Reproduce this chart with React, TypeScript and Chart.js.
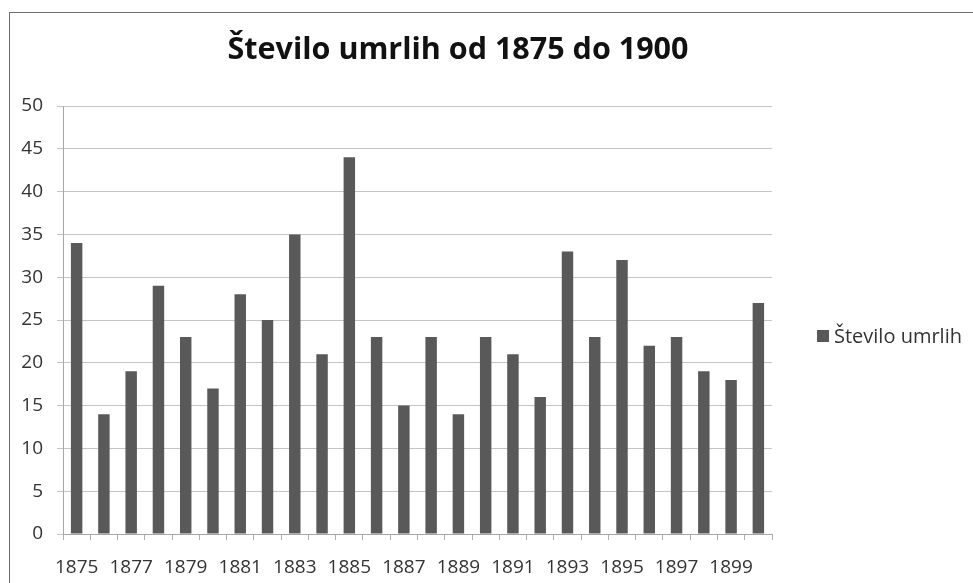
import React, { useEffect, useRef } from "react";
import { Chart, registerables } from "chart.js";

Chart.register(...registerables);

const TITLE = "Število umrlih od 1875 do 1900";
const SERIES_NAME = "Število umrlih";
const YEARS = [
  "1875", "1876", "1877", "1878", "1879", "1880", "1881", "1882", "1883",
  "1884", "1885", "1886", "1887", "1888", "1889", "1890", "1891", "1892",
  "1893", "1894", "1895", "1896", "1897", "1898", "1899", "1900",
];
const DEATHS = [
  34, 14, 19, 29, 23, 17, 28, 25, 35, 21, 44, 23, 15, 23, 14, 23, 21, 16,
  33, 23, 32, 22, 23, 19, 18, 27,
];
const Y_MAX = 50;
const Y_STEP = 5;

const FONT = "'Open Sans', 'Noto Sans', sans-serif";
const BAR_COLOR = "#595959";
const TEXT_COLOR = "#333333";

const titleLegendPlugin = {
  id: "titleLegend",
  afterDraw(chart: any) {
    const ctx = chart.ctx;
    ctx.save();
    ctx.fillStyle = "#111";
    ctx.font = `bold 30.5px ${FONT}`;
    ctx.textAlign = "center";
    ctx.textBaseline = "alphabetic";
    ctx.fillText(TITLE, 458, 59);

    ctx.fillStyle = BAR_COLOR;
    ctx.fillRect(817, 330, 12, 12);
    ctx.fillStyle = TEXT_COLOR;
    ctx.font = `20px ${FONT}`;
    ctx.textAlign = "left";
    ctx.fillText(SERIES_NAME, 834, 343);
    ctx.restore();
  },
};

export default function App() {
  const ref = useRef<HTMLCanvasElement>(null);
  useEffect(() => {
    if (!ref.current) return;
    const chart = new Chart(ref.current, {
      type: "bar",
      data: {
        labels: YEARS,
        datasets: [
          {
            label: SERIES_NAME,
            data: DEATHS,
            backgroundColor: BAR_COLOR,
            borderWidth: 0,
            categoryPercentage: 1,
            barPercentage: 0.42,
          },
        ],
      },
      options: {
        animation: false,
        responsive: false,
        maintainAspectRatio: false,
        layout: { padding: { left: 10, right: 201, top: 106, bottom: 0 } },
        plugins: {
          legend: { display: false },
          title: { display: false },
          tooltip: { enabled: false },
        },
        scales: {
          x: {
            afterFit: (s: any) => {
              s.height = 49;
            },
            grid: {
              drawOnChartArea: false,
              drawTicks: true,
              tickLength: 6,
              color: "#b0b0b0",
              offset: true,
            },
            border: { color: "#a6a6a6", width: 1 },
            ticks: {
              autoSkip: false,
              maxRotation: 0,
              minRotation: 0,
              padding: 16,
              color: TEXT_COLOR,
              font: { family: FONT, size: 19 },
              callback: (_v: any, i: number) => (i % 2 === 0 ? YEARS[i] : ""),
            },
          },
          y: {
            min: 0,
            max: Y_MAX,
            afterFit: (s: any) => {
              s.width = 53;
            },
            grid: {
              color: "#c4c4c4",
              tickLength: 6,
              drawTicks: true,
            },
            border: { color: "#a6a6a6", width: 1 },
            ticks: {
              stepSize: Y_STEP,
              padding: 14,
              color: TEXT_COLOR,
              font: { family: FONT, size: 19 },
            },
          },
        },
      },
      plugins: [titleLegendPlugin],
    });
    return () => chart.destroy();
  }, []);

  return (
    <div
      style={{
        position: "fixed",
        left: 0,
        top: 0,
        width: 973,
        height: 583,
        background: "#fff",
        overflow: "hidden",
      }}
    >
      <div
        style={{
          position: "absolute",
          left: 9,
          top: 12,
          width: 1000,
          height: 700,
          borderTop: "1.5px solid #6e6e6e",
          borderLeft: "1.5px solid #6e6e6e",
        }}
      />
      <canvas
        ref={ref}
        width={973}
        height={583}
        style={{ position: "absolute", left: 0, top: 0, width: 973, height: 583 }}
      />
    </div>
  );
}
